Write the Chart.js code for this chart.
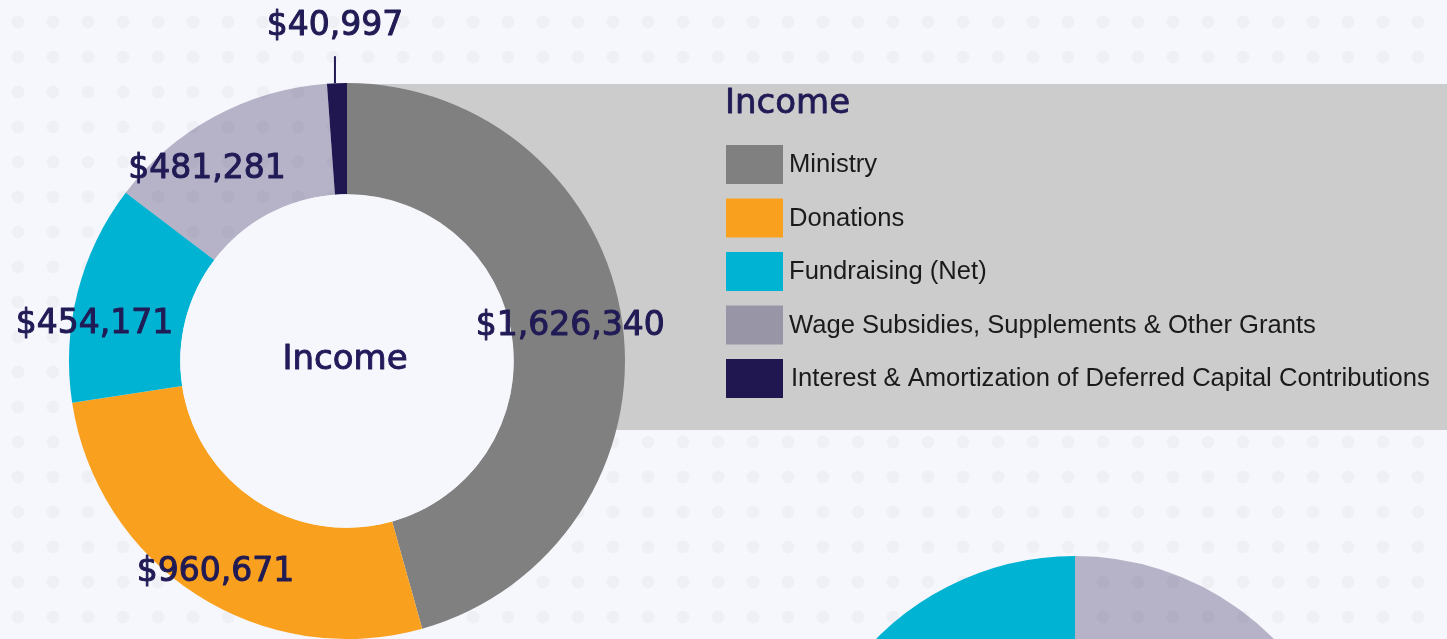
<!DOCTYPE html>
<html>
<head>
<meta charset="utf-8">
<script src="https://cdn.jsdelivr.net/npm/chart.js@4.4.0/dist/chart.umd.min.js"></script>
<style>
    html, body { margin: 0; padding: 0; background: #f6f7fc; overflow: hidden; }
    #pagina { position: relative; width: 1447px; height: 639px; overflow: hidden; }
    #donut_income { position: absolute; left: 0; top: 0; }
    #donut_expenses { position: absolute; left: 795px; top: 556px; }
</style>
</head>
<body>
<div id="pagina">
    <canvas id="donut_income" width="1447" height="639"></canvas>
    <canvas id="donut_expenses" width="560" height="560"></canvas>
</div>
<script>
/*Dados do gráfico de rosca principal (Income)*/
const labels_income = [
    'Ministry',
    'Donations',
    'Fundraising (Net)',
    'Wage Subsidies, Supplements & Other Grants',
    'Interest & Amortization of Deferred Capital Contributions'
];
const valores_income = [1626340, 960671, 454171, 481281, 40997];
const cores_income = ['#808080', '#f9a11e', '#00b3d3', 'rgba(32, 23, 81, 0.3)', '#201751'];

/*Segundo gráfico, cortado na parte de baixo da página (só aparece o topo)*/
const valores_expenses = [20, 40, 25, 15];
const cores_expenses = ['rgba(32, 23, 81, 0.3)', '#808080', '#f9a11e', '#00b3d3'];

const cor_fundo = '#f6f7fc';
const cor_texto = '#201a55';

function formatarDinheiro(v) {
    return '$' + v.toLocaleString('en-US');
}

/*texto um pouco mais grosso (preenche e contorna)*/
function textoGrosso(ctx, texto, x, y, grossura) {
    ctx.lineWidth = grossura;
    ctx.lineJoin = 'round';
    ctx.strokeText(texto, x, y);
    ctx.fillText(texto, x, y);
}

/*fundo com bolinhas e o retângulo cinza atrás da legenda*/
const plugin_fundo = {
    id: 'fundo',
    beforeDraw(chart) {
        const ctx = chart.ctx;
        ctx.save();
        ctx.fillStyle = cor_fundo;
        ctx.fillRect(0, 0, chart.width, chart.height);
        ctx.fillStyle = '#eff0f5';
        for (let y = 22; y < chart.height + 10; y += 35) {
            for (let x = 18; x < chart.width + 10; x += 35) {
                ctx.beginPath();
                ctx.arc(x, y, 6.5, 0, Math.PI * 2);
                ctx.fill();
            }
        }
        ctx.fillStyle = '#cccccc';
        ctx.fillRect(347, 84, chart.width - 347, 346);
        ctx.restore();
    }
};

/*legenda desenhada à mão no retângulo cinza*/
const plugin_legenda = {
    id: 'legenda',
    afterDraw(chart) {
        const ctx = chart.ctx;
        ctx.save();
        ctx.fillStyle = cor_texto;
        ctx.strokeStyle = cor_texto;
        ctx.font = '34px "DejaVu Sans"';
        ctx.textBaseline = 'alphabetic';
        ctx.textAlign = 'left';
        textoGrosso(ctx, 'Income', 725, 113, 0.8);

        const cores = chart.data.datasets[0].backgroundColor;
        ctx.font = '25.6px "Liberation Sans"';
        ctx.textBaseline = 'middle';
        for (let i = 0; i < chart.data.labels.length; i++) {
            const y = 145 + i * 53.5;
            ctx.fillStyle = cores[i];
            ctx.fillRect(726, y, 57, 39);
            ctx.fillStyle = '#1a1a1a';
            ctx.fillText(chart.data.labels[i], i == 4 ? 791 : 789, y + 20);
        }
        ctx.restore();
    }
};

/*rótulos com os valores e o texto do meio*/
const deslocamentos = [[3, -8], [-11, 21], [-37, 15], [-34, 1]];

const plugin_rotulos = {
    id: 'rotulos',
    afterDatasetsDraw(chart) {
        const ctx = chart.ctx;
        const meta = chart.getDatasetMeta(0);
        const valores = chart.data.datasets[0].data;
        const centro = meta.data[0];
        ctx.save();

        /*buraco do meio na cor do fundo (cobre as bolinhas e o cinza)*/
        ctx.fillStyle = cor_fundo;
        ctx.beginPath();
        ctx.arc(centro.x, centro.y, centro.innerRadius, 0, Math.PI * 2);
        ctx.fill();

        ctx.fillStyle = cor_texto;
        ctx.strokeStyle = cor_texto;
        ctx.font = '33px "DejaVu Sans"';
        ctx.textAlign = 'center';
        ctx.textBaseline = 'alphabetic';
        meta.data.forEach(function (arco, i) {
            const meio = (arco.startAngle + arco.endAngle) / 2;
            if (i < deslocamentos.length) {
                const r = (arco.innerRadius + arco.outerRadius) / 2;
                const x = arco.x + Math.cos(meio) * r + deslocamentos[i][0];
                const y = arco.y + Math.sin(meio) * r + deslocamentos[i][1];
                textoGrosso(ctx, formatarDinheiro(valores[i]), x, y + 12, 1);
            } else {
                /*fatia pequena: rótulo fora com linha*/
                const x1 = arco.x + Math.cos(meio) * arco.outerRadius;
                const y1 = arco.y + Math.sin(meio) * arco.outerRadius;
                ctx.lineWidth = 2;
                ctx.beginPath();
                ctx.moveTo(x1 - 2, y1);
                ctx.lineTo(x1 - 2, y1 - 27);
                ctx.stroke();
                textoGrosso(ctx, formatarDinheiro(valores[i]), x1 - 2, y1 - 61 + 13, 1);
            }
        });
        ctx.fillStyle = '#221a5a';
        ctx.strokeStyle = '#221a5a';
        ctx.font = '34px "DejaVu Sans"';
        textoGrosso(ctx, 'Income', centro.x - 2, centro.y + 8, 1);
        ctx.restore();
    }
};

const data_donut_income = {
    labels: labels_income,
    datasets: [{
        label: 'Income',
        data: valores_income,
        backgroundColor: cores_income,
        borderWidth: 0
    }]
};

const config_donut_income = {
    type: 'doughnut',
    data: data_donut_income,
    options: {
        responsive: false,
        animation: false,
        cutout: '60%',
        radius: 278,
        layout: { padding: { left: 69, right: 822, top: 83, bottom: 0 } },
        plugins: {
            legend: { display: false },
            tooltip: { enabled: false }
        }
    },
    plugins: [plugin_fundo, plugin_rotulos, plugin_legenda]
};

const grafico_donut_income = new Chart(
    document.getElementById('donut_income'),
    config_donut_income
);

const config_donut_expenses = {
    type: 'doughnut',
    data: {
        datasets: [{
            data: valores_expenses,
            backgroundColor: cores_expenses,
            borderWidth: 0
        }]
    },
    options: {
        responsive: false,
        animation: false,
        cutout: '60%',
        radius: 280,
        layout: { padding: 0 },
        plugins: {
            legend: { display: false },
            tooltip: { enabled: false }
        }
    }
};

const grafico_donut_expenses = new Chart(
    document.getElementById('donut_expenses'),
    config_donut_expenses
);
</script>
</body>
</html>
